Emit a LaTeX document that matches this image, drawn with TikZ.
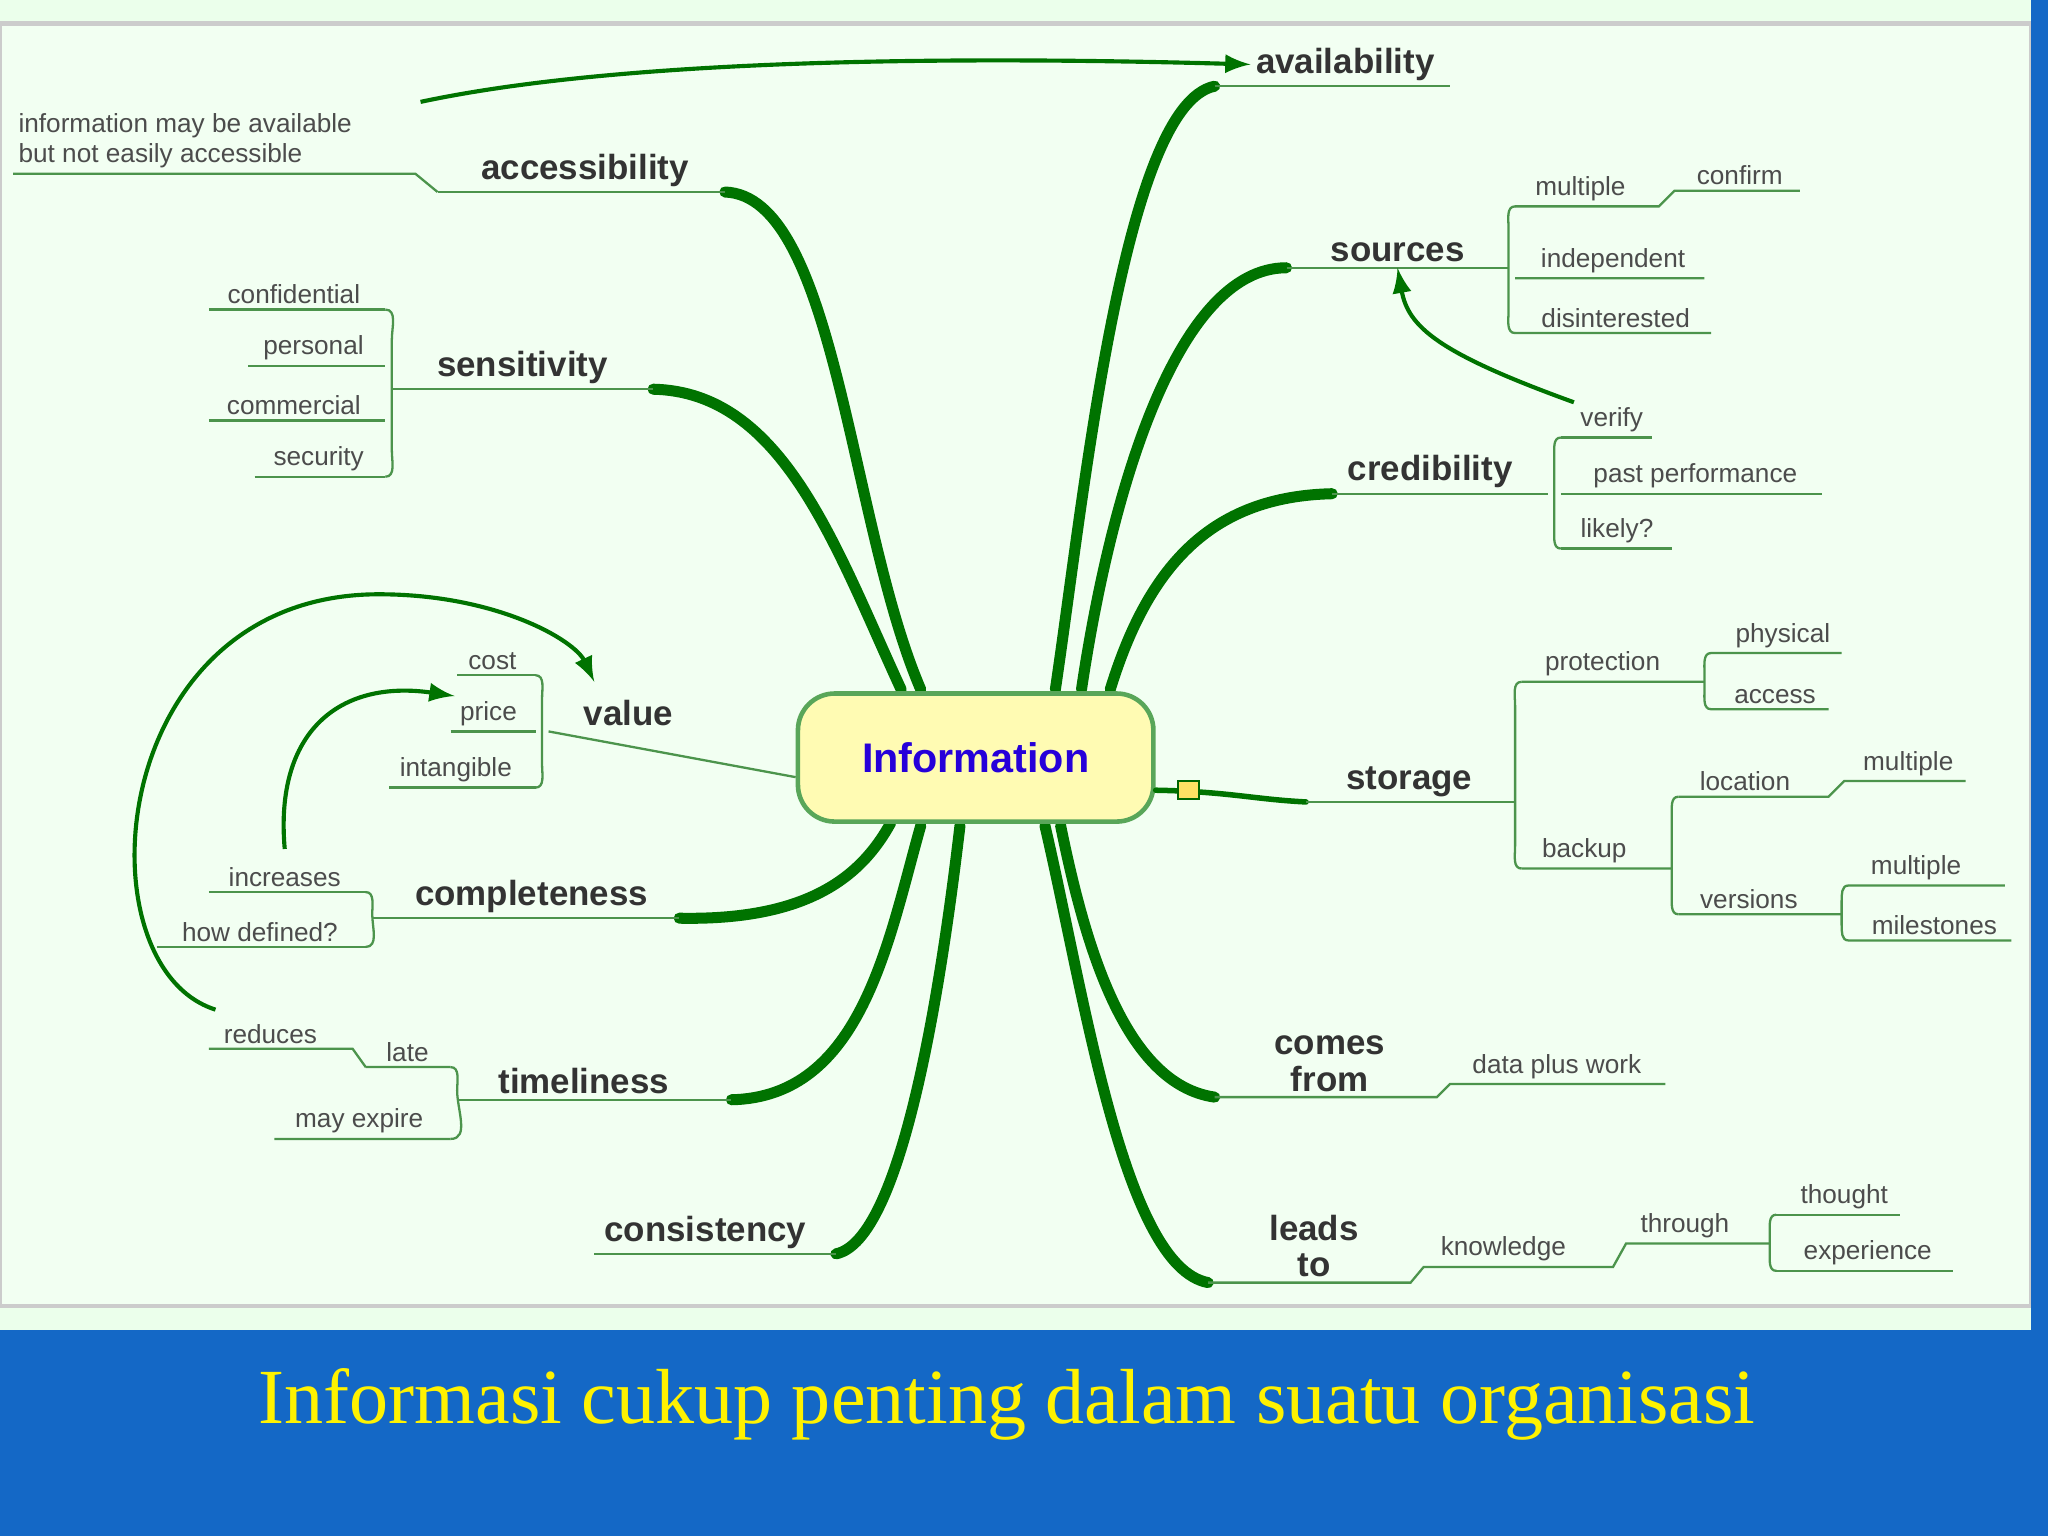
\documentclass[tikz,border=0pt]{standalone}
\usepackage{fontspec}
\setmainfont{Liberation Serif}
\setsansfont{Liberation Sans}
\definecolor{band}{HTML}{1468C6}
\begin{document}
\begin{tikzpicture}[x=0.01cm,y=-0.01cm,
  big/.style={font=\sffamily\bfseries\fontsize{7.6}{8}\selectfont,text=black!80,inner sep=1pt,anchor=south},
  sm/.style={font=\sffamily\fontsize{5.7}{6.5}\selectfont,text=black!70,inner sep=1pt,anchor=south},
  ul/.style={draw=green!40!black!70,line width=0.5pt},
  br/.style={draw=green!45!black,line width=2.4pt,line cap=round},
  ar/.style={draw=green!45!black,line width=0.9pt,-latex}]
\useasboundingbox (0,0) rectangle (1568,1176);
\fill[green!8!white] (0,0) rectangle (1568,1176);
\draw[gray!40,fill=green!5!white,line width=1pt] (0,18) rectangle (1555,1000);
\fill[band] (1555,0) rectangle (1568,1176);
\fill[band] (0,1018) rectangle (1568,1176);
\node[font=\fontsize{17}{20}\selectfont,text=yellow] (cap) at (771,1075) {Informasi cukup penting dalam suatu organisasi};
% branches
\draw[br] (555,147) .. controls (640,150) and (650,400) .. (705,528);
\draw[br] (500,298) .. controls (600,300) and (640,420) .. (690,528);
\draw[br] (520,703) .. controls (620,705) and (660,670) .. (682,630);
\draw[br] (560,842) .. controls (660,840) and (680,720) .. (705,632);
\draw[br] (640,960) .. controls (690,950) and (720,760) .. (735,632);
\draw[br] (930,66) .. controls (860,80) and (830,380) .. (808,528);
\draw[br] (985,205) .. controls (900,205) and (850,380) .. (828,528);
\draw[br] (1020,378) .. controls (930,380) and (880,430) .. (850,528);
\draw[br] (930,840) .. controls (860,830) and (830,720) .. (812,632);
\draw[br] (925,982) .. controls (860,970) and (830,760) .. (800,632);
% center
\node[draw=green!30!gray,fill=yellow!30,rounded corners=8pt,minimum width=2.72cm,minimum height=0.98cm,line width=1pt,font=\sffamily\bfseries\fontsize{9}{10}\selectfont,text=blue!70!violet] (info) at (747,580) {Information};
\draw[br,line width=1.2pt] (1000,614) .. controls (960,612) and (940,606) .. ([yshift=-0.25cm]info.east);
\fill[yellow!70!orange!60,draw=green!40!black,line width=0.4pt] (902,598) rectangle (918,612);
% labels: left
\node[big] (acc) at (448,147) {accessibility};
\draw[ul] (335,147) -- (555,147);
\node[sm,align=left,anchor=south west] (infav) at (10,133) {information may be available\\but not easily accessible};
\draw[ul] (10,133) -- (318,133) -- (335,147);
\node[big] (sen) at (400,298) {sensitivity};
\draw[ul] (300,298) -- (500,298);
\node[sm] (conf) at (225,237) {confidential};
\node[sm] (pers) at (240,280) {personal};
\node[sm] (comm) at (225,322) {commercial};
\node[sm] (secu) at (244,365) {security};
\draw[ul] (160,237)--(295,237) (190,280)--(295,280) (160,322)--(295,322) (195,365)--(295,365);
\draw[ul] (295,237) to[out=0,in=90] (300,260) -- (300,345) to[out=-90,in=0] (295,365);
\node[big] (val) at (481,560) {value};
\draw[ul] (420,560) -- ([yshift=-0.15cm]info.west);
\node[sm] (cost) at (377,517) {cost};
\node[sm] (price) at (374,560) {price};
\node[sm] (intan) at (349,603) {intangible};
\draw[ul] (350,517)--(410,517) (345,560)--(410,560) (298,603)--(410,603);
\draw[ul] (410,517) to[out=0,in=90] (415,535) -- (415,585) to[out=-90,in=0] (410,603);
\node[big] (comp) at (407,703) {completeness};
\draw[ul] (285,703) -- (520,703);
\node[sm] (incr) at (218,683) {increases};
\node[sm] (howd) at (199,725) {how defined?};
\draw[ul] (160,683)--(280,683) (120,725)--(280,725);
\draw[ul] (280,683) to[out=0,in=90] (285,700) to[out=-90,in=0] (280,725);
\node[big] (time) at (447,842) {timeliness};
\draw[ul] (350,842) -- (560,842);
\node[sm] (late) at (312,817) {late};
\node[sm] (mayx) at (275,872) {may expire};
\node[sm] (redu) at (207,803) {reduces};
\draw[ul] (280,817)--(345,817) (210,872)--(345,872) (160,803)--(270,803)--(280,817);
\draw[ul] (345,817) to[out=0,in=90] (350,835) to[out=-90,in=0] (345,872);
\node[big] (cons) at (540,960) {consistency};
\draw[ul] (455,960) -- (640,960);
% right
\node[big] (avail) at (1030,66) {availability};
\draw[ul] (930,66) -- (1110,66);
\node[big] (src) at (1070,205) {sources};
\draw[ul] (985,205) -- (1150,205);
\node[sm] (mult1) at (1210,158) {multiple};
\node[sm] (confm) at (1332,146) {confirm};
\node[sm] (indep) at (1235,213) {independent};
\node[sm] (disin) at (1237,255) {disinterested};
\draw[ul] (1160,158)--(1270,158)--(1282,146)--(1378,146) (1160,213)--(1305,213) (1160,255)--(1310,255);
\draw[ul] (1160,158) to[out=180,in=90] (1155,175) -- (1155,238) to[out=-90,in=180] (1160,255);
\draw[ul] (1150,205) -- (1155,205);
\node[big] (cred) at (1095,378) {credibility};
\draw[ul] (1020,378) -- (1185,378);
\node[sm] (verif) at (1234,335) {verify};
\node[sm] (past) at (1298,378) {past performance};
\node[sm] (likel) at (1238,420) {likely?};
\draw[ul] (1195,335)--(1265,335) (1195,378)--(1395,378) (1195,420)--(1280,420);
\draw[ul] (1195,335) to[out=180,in=90] (1190,350) -- (1190,405) to[out=-90,in=180] (1195,420);
\node[big] (stor) at (1079,614) {storage};
\draw[ul] (1000,614) -- (1160,614);
\node[sm] (prot) at (1227,522) {protection};
\node[sm] (phys) at (1365,500) {physical};
\node[sm] (acce) at (1359,543) {access};
\node[sm] (back) at (1213,665) {backup};
\node[sm] (loca) at (1336,610) {location};
\node[sm] (mult2) at (1461,598) {multiple};
\node[sm] (vers) at (1339,700) {versions};
\node[sm] (mult3) at (1467,678) {multiple};
\node[sm] (mile) at (1481,720) {milestones};
\draw[ul] (1165,522)--(1305,522) (1310,500)--(1410,500) (1310,543)--(1400,543)
  (1165,665)--(1280,665) (1285,610)--(1400,610)--(1412,598)--(1505,598)
  (1285,700)--(1410,700) (1415,678)--(1535,678) (1415,720)--(1540,720);
\draw[ul] (1165,522) to[out=180,in=90] (1160,540) -- (1160,648) to[out=-90,in=180] (1165,665);
\draw[ul] (1310,500) to[out=180,in=90] (1305,515) -- (1305,528) to[out=-90,in=180] (1310,543);
\draw[ul] (1285,610) to[out=180,in=90] (1280,625) -- (1280,685) to[out=-90,in=180] (1285,700);
\draw[ul] (1415,678) to[out=180,in=90] (1410,690) -- (1410,708) to[out=-90,in=180] (1415,720);
\node[big,align=center] (come) at (1018,840) {comes\\from};
\draw[ul] (930,840) -- (1100,840) -- (1110,830) -- (1275,830);
\node[sm] (data) at (1192,830) {data plus work};
\node[big,align=center] (lead) at (1006,982) {leads\\to};
\draw[ul] (925,982) -- (1080,982) -- (1090,970) -- (1235,970) -- (1245,952) -- (1355,952);
\node[sm] (know) at (1151,970) {knowledge};
\node[sm] (thro) at (1290,952) {through};
\node[sm] (thou) at (1412,930) {thought};
\node[sm] (expe) at (1430,973) {experience};
\draw[ul] (1360,930)--(1455,930) (1360,973)--(1495,973);
\draw[ul] (1360,930) to[out=180,in=90] (1355,945) -- (1355,958) to[out=-90,in=180] (1360,973);
% arrows
\draw[ar] (322,78) .. controls (500,40) and (800,45) .. (avail.west);
\draw[ar] (1205,308) .. controls (1100,270) and (1078,250) .. (src.south);
\draw[ar] (165,773) .. controls (60,740) and (80,455) .. (290,455) .. controls (380,455) and (440,490) .. (455,522);
\draw[ar] (218,650) .. controls (210,560) and (260,520) .. (price.north west);
\end{tikzpicture}
\end{document}
